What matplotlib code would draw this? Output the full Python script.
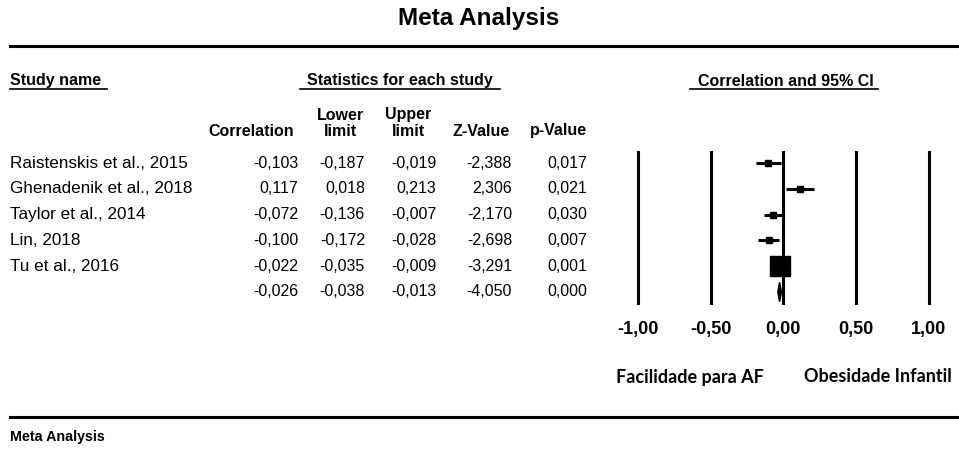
import matplotlib.pyplot as plt
from matplotlib.patches import Polygon

studies = ["Raistenskis et al., 2015", "Ghenadenik et al., 2018", "Taylor et al., 2014",
           "Lin, 2018", "Tu et al., 2016", ""]
corr = [-0.103, 0.117, -0.072, -0.100, -0.022, -0.026]
lower = [-0.187, 0.018, -0.136, -0.172, -0.035, -0.038]
upper = [-0.019, 0.213, -0.007, -0.028, -0.009, -0.013]
zval = [-2.388, 2.306, -2.170, -2.698, -3.291, -4.050]
pval = [0.017, 0.021, 0.030, 0.007, 0.001, 0.000]
ticks = [-1.0, -0.5, 0.0, 0.5, 1.0]
left_label = "Facilidade para AF"
right_label = "Obesidade Infantil"

# relative box sizes for the study squares (last row is the summary diamond)
box_size = [4.5, 4.5, 4.5, 4.5, 14.5]

W, H = 959, 450
plt.rcParams['font.family'] = ['Liberation Sans', 'DejaVu Sans']
fig = plt.figure(figsize=(W / 100, H / 100), dpi=100)

# background axes in pixel coordinates for the table part
bg = fig.add_axes([0, 0, 1, 1])
bg.set_xlim(0, W)
bg.set_ylim(H, 0)
bg.axis('off')


def fmt(v):
    return f"{v:.3f}".replace(".", ",")


bg.text(479, 19, "Meta Analysis", ha='center', va='center', fontsize=17.5, fontweight='bold')
bg.plot([10, W], [46, 46], color='black', lw=2.2)

# group headers with underlines
hfs = 11.5
bg.text(10, 81, "Study name", ha='left', va='center', fontsize=hfs, fontweight='bold')
bg.plot([10, 107], [89, 89], color='black', lw=1.2)
bg.text(400, 81, "Statistics for each study", ha='center', va='center', fontsize=hfs, fontweight='bold')
bg.plot([300, 500], [89, 89], color='black', lw=1.2)
bg.text(786, 81, "Correlation and 95% CI", ha='center', va='center', fontsize=hfs, fontweight='bold')
bg.plot([690, 878], [89, 89], color='black', lw=1.2)

# column headers
col_right = [298, 365, 436, 512, 587]
bg.text(294, 131, "Correlation", ha='right', va='center', fontsize=hfs, fontweight='bold')
bg.text(340, 115, "Lower", ha='center', va='center', fontsize=hfs, fontweight='bold')
bg.text(340, 131, "limit", ha='center', va='center', fontsize=hfs, fontweight='bold')
bg.text(408, 115, "Upper", ha='center', va='center', fontsize=hfs, fontweight='bold')
bg.text(408, 131, "limit", ha='center', va='center', fontsize=hfs, fontweight='bold')
bg.text(510, 131, "Z-Value", ha='right', va='center', fontsize=hfs, fontweight='bold')
bg.text(587, 131, "p-Value", ha='right', va='center', fontsize=hfs, fontweight='bold')

row_y0, row_dy = 163, 25.8
for i in range(len(studies)):
    y = row_y0 + i * row_dy
    bg.text(10, y, studies[i], ha='left', va='center', fontsize=12.3)
    vals = [fmt(corr[i]), fmt(lower[i]), fmt(upper[i]), fmt(zval[i]), fmt(pval[i])]
    for xr, s in zip(col_right, vals):
        bg.text(xr, y, s, ha='right', va='center', fontsize=11.5)

# forest plot axes: x -1..1 maps to px 637.7..929, rows 0..5 at px 163..292
x0, x1 = 637.7, 929.0
top, bot = 152, 303
ax = fig.add_axes([x0 / W, 1 - bot / H, (x1 - x0) / W, (bot - top) / H])
ax.set_xlim(-1, 1)
ax.set_ylim(5 + (bot - (row_y0 + 5 * row_dy)) / row_dy, -(row_y0 - top) / row_dy)
ax.patch.set_visible(False)
for s in ax.spines.values():
    s.set_visible(False)
ax.set_yticks([])
ax.set_xticks(ticks)
ax.set_xticklabels([f"{t:.2f}".replace(".", ",") for t in ticks], fontsize=13, fontweight='bold')
ax.tick_params(axis='x', length=0, pad=13)

for t in ticks:
    ax.axvline(t, color='black', lw=2.2, clip_on=False)

for i in range(len(studies) - 1):
    ax.plot([lower[i], upper[i]], [i, i], color='black', lw=2.2, solid_capstyle='butt')
    ax.plot(corr[i], i, marker='s', color='black', markersize=box_size[i])

k = len(studies) - 1
diamond = Polygon([[lower[k], k], [corr[k], k - 0.38], [upper[k], k], [corr[k], k + 0.38]],
                  closed=True, color='black')
ax.add_patch(diamond)

# direction labels
bg.text(690, 377, left_label, ha='center', va='center', fontsize=13, fontweight='bold',
        family=['Lato', 'DejaVu Sans'])
bg.text(878, 377, right_label, ha='center', va='center', fontsize=13, fontweight='bold',
        family=['Lato', 'DejaVu Sans'])

bg.plot([10, W], [417, 417], color='black', lw=2.2)
bg.text(10, 437, "Meta Analysis", ha='left', va='center', fontsize=10.3, fontweight='bold')

fig.savefig("out.png", dpi=100)
